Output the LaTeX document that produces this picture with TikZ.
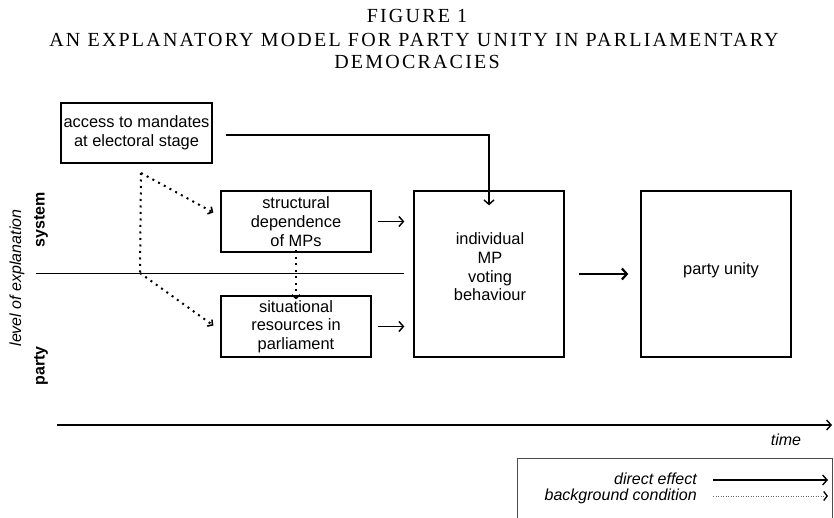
\documentclass[tikz,border=0pt]{standalone}
\usepackage{fontspec}
\setmainfont{Liberation Sans}
\newfontfamily\titlefont[LetterSpace=11]{Liberation Serif}
\usetikzlibrary{arrows.meta}
\tikzset{
  boxnode/.style={draw, line width=1.3pt, inner sep=0pt, align=center},
  txt/.style={font=\fontsize{16.4}{18.7}\selectfont, align=center, inner sep=0pt},
  arr/.style={line width=1.4pt, -{Straight Barb[length=4.5pt,width=10pt,line width=1.4pt]}},
  thickarr/.style={line width=2.2pt, -{Straight Barb[length=5pt,width=11pt,line width=2.2pt]}},
  dotline/.style={line width=2pt, dash pattern=on 2pt off 4.5pt, line cap=butt},
  dotarr/.style={dotline, -{Straight Barb[length=3.5pt,width=8pt,line width=1.6pt]}},
  sidelabel/.style={font=\fontsize{16}{18}\selectfont\bfseries, rotate=90, inner sep=0pt},
  titletxt/.style={font=\titlefont\fontsize{20}{22}\selectfont, anchor=base, inner sep=0pt}
}
\begin{document}
\begin{tikzpicture}[x=1pt,y=-1pt]
\useasboundingbox (0,0) rectangle (834,518);

% title
\node[titletxt] (t1) at (417,23) {FIGURE 1};
\node[titletxt] (t2) at (414,46.5) {AN EXPLANATORY MODEL FOR PARTY UNITY IN PARLIAMENTARY};
\node[titletxt] (t3) at (417,68.5) {DEMOCRACIES};

% boxes
\node[boxnode, txt, minimum width=151pt, minimum height=60pt] (access) at (136.5,133) {access to mandates\\at electoral stage};
\node[boxnode, txt, minimum width=150pt, minimum height=61pt] (struct) at (296,221.5) {structural\\dependence\\of MPs};
\node[boxnode, txt, minimum width=150pt, minimum height=61pt] (situ) at (296,326.5) {situational\\resources in\\parliament};
\node[boxnode, minimum width=150pt, minimum height=166pt] (indiv) at (489,274) {};
\node[txt] (indivtext) at (490,267) {individual\\MP\\voting\\behaviour};
\node[boxnode, minimum width=150pt, minimum height=166pt] (unity) at (716,274) {};
\node[txt] (unitytext) at (721,270) {party unity};

% divider
\coordinate (divL) at (36,274);
\coordinate (divR) at (404,274);
\draw[line width=1pt] (divL) -- (divR);

% solid arrows
\draw[arr] ([xshift=13pt,yshift=-2pt]access.east) -| ([yshift=-15pt]indiv.north);
\draw[arr] ([xshift=6pt]struct.east) -- ([xshift=-9pt]indiv.west |- struct.east);
\draw[arr] ([xshift=6pt]situ.east) -- ([xshift=-9pt]indiv.west |- situ.east);
\draw[thickarr] ([xshift=14pt]indiv.east) -- ([xshift=-12pt]unity.west);

% dotted background conditions
\coordinate (dtop) at (141,173);
\coordinate (dmid) at (140,273);
\draw[dotarr] (dtop) -- ([xshift=-7pt,yshift=9pt]struct.west);
\draw[dotline] (dtop) -- (dmid);
\draw[dotarr] (dmid) -- ([xshift=-7pt,yshift=1pt]situ.west);
\draw[dotarr] ([yshift=9pt]struct.south) -- ([yshift=-4pt]situ.north);

% side labels
\node[sidelabel] (sys) at (41,220) {system};
\node[sidelabel] (party) at (41,366) {party};
\node[font=\fontsize{16}{18}\selectfont\itshape, rotate=90, inner sep=0pt] (level) at (17,278) {level of explanation};

% time axis
\coordinate (tstart) at (57,425);
\coordinate (tend) at (832,425);
\draw[arr] (tstart) -- (tend);
\node[font=\fontsize{16}{18}\selectfont\itshape, inner sep=0pt] (time) at (786,440) {time};

% legend
\coordinate (lgA) at (517,519);
\coordinate (lgB) at (517,458);
\coordinate (lgC) at (832,458);
\coordinate (lgD) at (832,519);
\draw[line width=0.8pt, black!70] (lgA) -- (lgB) -- (lgC) -- (lgD);
\node[font=\fontsize{16}{18}\selectfont\itshape, anchor=base east, inner sep=0pt] (ldirect) at (697,484) {direct effect};
\node[font=\fontsize{16}{18}\selectfont\itshape, anchor=base east, inner sep=0pt] (lback) at (697,500) {background condition};
\coordinate (la1) at (713,480);
\coordinate (la2) at (828,480);
\coordinate (lb1) at (713,496);
\coordinate (lb2) at (828,496);
\draw[arr] (la1) -- (la2);
\draw[line width=0.7pt, black!60, dash pattern=on 1pt off 1.5pt, -{Straight Barb[length=3.5pt,width=9pt,line width=1.3pt,black]}] (lb1) -- (lb2);
\end{tikzpicture}
\end{document}
